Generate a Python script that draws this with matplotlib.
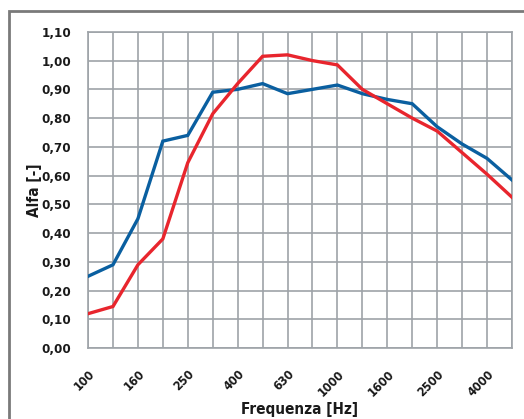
import matplotlib.pyplot as plt
from matplotlib.patches import Rectangle

# 1/3 octave bands
freqs = ['100', '125', '160', '200', '250', '315', '400', '500', '630', '800',
         '1000', '1250', '1600', '2000', '2500', '3150', '4000', '5000']
alfa_blue = [0.25, 0.29, 0.45, 0.72, 0.74, 0.89, 0.90, 0.92, 0.885, 0.90,
             0.915, 0.885, 0.865, 0.85, 0.77, 0.71, 0.66, 0.585]
alfa_red = [0.12, 0.145, 0.29, 0.38, 0.645, 0.815, 0.92, 1.015, 1.02, 1.00,
            0.985, 0.90, 0.85, 0.80, 0.755, 0.68, 0.605, 0.525]
yticks = [0.0, 0.1, 0.2, 0.3, 0.4, 0.5, 0.6, 0.7, 0.8, 0.9, 1.0, 1.1]

font = ['DejaVu Sans']
grid_col = '#9ea3a8'

fig = plt.figure(figsize=(5.24, 4.19), dpi=100)
ax = fig.add_axes([0.168, 0.169, 0.809, 0.755])

x = list(range(len(freqs)))
ax.plot(x, alfa_blue, color='#0a5fa0', lw=2.4, solid_joinstyle='miter', zorder=3)
ax.plot(x, alfa_red, color='#e8252d', lw=2.4, solid_joinstyle='miter', zorder=3)

ax.set_xlim(0, len(freqs) - 1)
ax.set_ylim(0, 1.1)
ax.set_xticks(x)
ax.set_xticklabels([f if i % 2 == 0 else '' for i, f in enumerate(freqs)],
                   rotation=45, ha='right', va='top', rotation_mode='anchor',
                   fontfamily=font, fontweight='bold', fontstretch='condensed',
                   fontsize=9)
ax.set_yticks(yticks)
ax.set_yticklabels([f'{v:.2f}'.replace('.', ',') for v in yticks],
                   fontfamily=font, fontweight='bold', fontstretch='condensed',
                   fontsize=9.5)
ax.tick_params(axis='both', length=0, colors='#1a1a1a')
ax.tick_params(axis='y', pad=12)
ax.tick_params(axis='x', pad=14)
ax.grid(True, color=grid_col, lw=1.2)
ax.set_axisbelow(True)
for s in ax.spines.values():
    s.set_color(grid_col)
    s.set_linewidth(1.2)

ax.set_xlabel('Frequenza [Hz]', fontfamily=font, fontweight='bold',
              fontstretch='condensed', fontsize=11, color='#1a1a1a', labelpad=2)
ax.set_ylabel('Alfa [-]', fontfamily=font, fontweight='bold',
              fontstretch='condensed', fontsize=11, color='#1a1a1a', labelpad=0)

# outer frame
fig.patches.append(Rectangle((9 / 524, -0.2), 1.2, 1.2 - 11 / 419,
                             transform=fig.transFigure, fill=False,
                             edgecolor='#7a7a7a', lw=2))

fig.savefig('out.png', dpi=100)
